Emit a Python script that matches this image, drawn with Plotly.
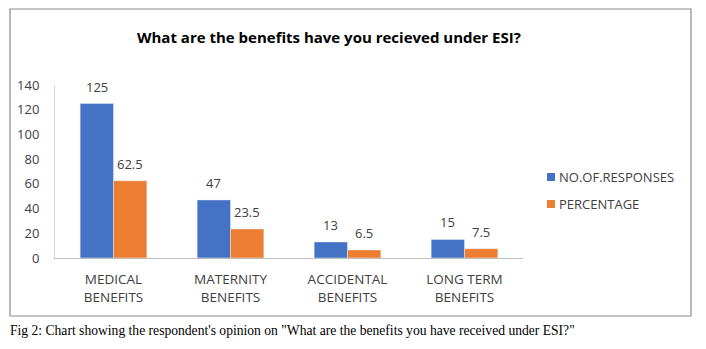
import plotly.graph_objects as go

categories = ["MEDICAL BENEFITS", "MATERNITY BENEFITS", "ACCIDENTAL BENEFITS", "LONG TERM BENEFITS"]
category_ticks = ["MEDICAL<br>BENEFITS", "MATERNITY<br>BENEFITS", "ACCIDENTAL<br>BENEFITS", "LONG TERM<br>BENEFITS"]
series_names = ["NO.OF.RESPONSES", "PERCENTAGE"]
responses = [125, 47, 13, 15]
percentage = [62.5, 23.5, 6.5, 7.5]
y_ticks = [0, 20, 40, 60, 80, 100, 120, 140]

W, H = 706, 349
L, R, T, B = 55, 183, 85, 91
pw, ph = W - L - R, H - T - B
BARGAP = 0.43


def px_x(x):
    return (x - L) / pw


def px_y(y):
    return (H - B - y) / ph


BLUE = "#4472C4"
ORANGE = "#ED7D31"
TXT = "#404040"
FONT = "'Open Sans', sans-serif"

fig = go.Figure()
fig.add_trace(go.Bar(x=categories, y=responses, name=series_names[0],
                     marker_color=BLUE, showlegend=False))
fig.add_trace(go.Bar(x=categories, y=percentage, name=series_names[1],
                     marker_color=ORANGE, showlegend=False))

annotations = []
# value labels centred above each bar
half = (1 - BARGAP) / 4
for i, c in enumerate(categories):
    for val, off in ((responses[i], -half), (percentage[i], half)):
        annotations.append(dict(
            x=i + off, y=val, xref="x", yref="y", text=f"{val:g}",
            showarrow=False, yanchor="middle", yshift=17,
            font=dict(family=FONT, size=13, color=TXT)))

annotations.append(dict(
    x=px_x(329), y=px_y(37), xref="paper", yref="paper",
    text="<b>What are the benefits have you recieved under ESI?</b>",
    showarrow=False, xanchor="center", yanchor="middle",
    font=dict(family=FONT, size=15, color="#000000")))

annotations.append(dict(
    x=px_x(8), y=px_y(330), xref="paper", yref="paper",
    text="Fig 2: Chart showing the respondent's opinion on \"What are the benefits you have received under ESI?\"",
    showarrow=False, xanchor="left", yanchor="middle",
    font=dict(family="'Liberation Serif', 'Times New Roman', serif", size=13.6, color="#000000")))

shapes = [dict(type="rect", xref="paper", yref="paper",
               x0=px_x(10), x1=px_x(691), y0=px_y(316), y1=px_y(9),
               line=dict(color="#8c8c8c", width=1.2), fillcolor="rgba(0,0,0,0)")]

# legend: coloured squares with series names
for name, color, yc in zip(series_names, [BLUE, ORANGE], [177, 204]):
    shapes.append(dict(type="rect", xref="paper", yref="paper",
                       x0=px_x(547), x1=px_x(555), y0=px_y(yc + 4), y1=px_y(yc - 4),
                       line=dict(width=0), fillcolor=color))
    annotations.append(dict(x=px_x(557), y=px_y(yc), xref="paper", yref="paper",
                            text=name, showarrow=False, xanchor="left", yanchor="middle",
                            font=dict(family=FONT, size=13, color=TXT)))

fig.update_layout(
    width=W, height=H,
    margin=dict(l=L, r=R, t=T, b=B, pad=0),
    paper_bgcolor="white", plot_bgcolor="white",
    barmode="group", bargap=BARGAP, bargroupgap=0,
    showlegend=False,
    annotations=annotations,
    shapes=shapes,
    xaxis=dict(tickmode="array", tickvals=categories, ticktext=category_ticks,
               tickfont=dict(family=FONT, size=13.5, color=TXT),
               showline=True, linecolor="#bfbfbf", linewidth=1.2,
               ticks="", showgrid=False, ticklabelstandoff=9),
    yaxis=dict(range=[0, 140], tickvals=y_ticks, showgrid=False,
               showline=True, linecolor="#d9d9d9", linewidth=1,
               tickfont=dict(family=FONT, size=13, color=TXT),
               ticks="", ticklabelstandoff=12, zeroline=False),
)

fig.write_html("out.html")
